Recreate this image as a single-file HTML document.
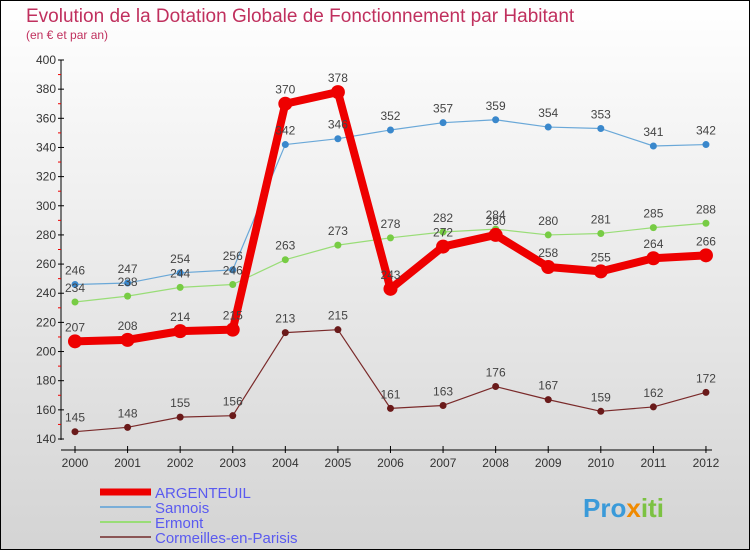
<!DOCTYPE html>
<html><head><meta charset="utf-8"><style>
body{margin:0;background:#fff}
svg{display:block;font-family:"Liberation Sans",sans-serif}
</style></head><body>
<svg id="c" width="750" height="550">
<defs><linearGradient id="bg" x1="0" y1="0" x2="0" y2="1"><stop offset="0" stop-color="#ffffff"/><stop offset="1" stop-color="#d4d4d4"/></linearGradient></defs>
<rect x="0.5" y="0.5" width="749" height="549" fill="url(#bg)" stroke="#000"/>
<text x="26" y="22" font-size="19" fill="#c0305e">Evolution de la Dotation Globale de Fonctionnement par Habitant</text>
<text x="26" y="39" font-size="12" fill="#c0305e">(en € et par an)</text>
<g id="g"></g>
<text x="583" y="517" font-size="26" font-weight="bold" fill="#3a9ad9">Pro<tspan fill="#f08a00">x</tspan><tspan fill="#7cc242">iti</tspan></text>
</svg>
<script>
const years=[2000,2001,2002,2003,2004,2005,2006,2007,2008,2009,2010,2011,2012];
const argenteuil=[207,208,214,215,370,378,243,272,280,258,255,264,266];
const sannois=[246,247,254,256,342,346,352,357,359,354,353,341,342];
const ermont=[234,238,244,246,263,273,278,282,284,280,281,285,288];
const cormeilles=[145,148,155,156,213,215,161,163,176,167,159,162,172];
const yTicks=[140,160,180,200,220,240,260,280,300,320,340,360,380,400];
const NS="http://www.w3.org/2000/svg",g=document.getElementById('g');
const X=i=>75+i*52.58, Y=v=>439-(v-140)*(379/260);
function el(t,a,p){const e=document.createElementNS(NS,t);for(const k in a)e.setAttribute(k,a[k]);(p||g).appendChild(e);return e;}
// axes
let ax=el('line',{x1:61,y1:60,x2:61,y2:440,stroke:'#000'});


let bx=el('line',{x1:61,y1:450,x2:712,y2:450,stroke:'#000'});


yTicks.forEach(v=>{
 el('line',{x1:58,y1:Y(v),x2:64,y2:Y(v),stroke:'#000'});
 if(v<400) el('line',{x1:58,y1:Y(v+10),x2:61,y2:Y(v+10),stroke:'#e00'});
 const t=el('text',{x:56,y:Y(v)+4,'font-size':12,fill:'#333','text-anchor':'end'});t.textContent=v;
 
 
});
years.forEach((y,i)=>{
 el('line',{x1:X(i),y1:446,x2:X(i),y2:453,stroke:'#000'});
 const t=el('text',{x:X(i),y:467,'font-size':12,fill:'#333','text-anchor':'middle'});t.textContent=y;
 
 
});
const series=[
 {n:'cormeilles',d:cormeilles,c:'#7a2a2a',w:1.2,r:3.5,pc:'#6a1a1a'},
 {n:'ermont',d:ermont,c:'#99dd77',w:1.2,r:3.5,pc:'#77cc44'},
 {n:'sannois',d:sannois,c:'#6aa8d8',w:1.2,r:3.5,pc:'#3a88cc'},
 {n:'argenteuil',d:argenteuil,c:'#ee0000',w:8,r:7,pc:'#ee0000'}];
series.forEach(s=>{
 const p=el('polyline',{points:s.d.map((v,i)=>X(i)+','+Y(v)).join(' '),fill:'none',stroke:s.c,'stroke-width':s.w,'stroke-linejoin':'round'});
 
 
 s.d.forEach((v,i)=>{
  const c=el('circle',{cx:X(i),cy:Y(v),r:s.r,fill:s.pc});
  
  
 });
});
series.forEach(s=>{
 s.d.forEach((v,i)=>{
  const t=el('text',{x:X(i),y:Y(v)-10,'font-size':12,fill:'#444','text-anchor':'middle'});t.textContent=v;
  
  
 });
});
// legend
const leg=[['ARGENTEUIL','#ee0000',7],['Sannois','#7aaed8',2],['Ermont','#99dd77',2],['Cormeilles-en-Parisis','#8a5555',2]];
leg.forEach((l,i)=>{
 const y=492+i*15;
 const ln=el('line',{x1:100,y1:y,x2:151,y2:y,stroke:l[1],'stroke-width':l[2]});
 
 
 const t=el('text',{x:155,y:y+6,'font-size':15,fill:'#5a5af0'});t.textContent=l[0];
 
 
});
</script>
</body></html>
